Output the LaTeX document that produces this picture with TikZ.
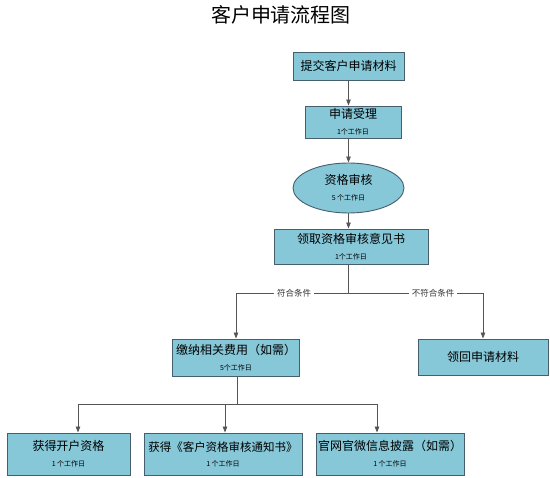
\documentclass[tikz,border=0pt]{standalone}
\usepackage{fontspec}
\setmainfont{Noto Sans CJK SC}
\usetikzlibrary{shapes.geometric,arrows.meta}
\definecolor{boxfill}{RGB}{134,199,216}
\definecolor{boxdraw}{RGB}{70,95,110}
\definecolor{linec}{RGB}{85,85,85}
\tikzset{
  box/.style={draw=boxdraw, line width=0.9pt, fill=boxfill, rectangle, align=center, inner sep=1pt, font=\fontsize{12}{15}\selectfont},
  oval/.style={box, ellipse},
  conn/.style={draw=linec, line width=0.8pt},
  arr/.style={conn, -{Triangle[length=6pt,width=4.5pt]}},
  lbl/.style={fill=white, inner sep=3pt, font=\fontsize{8.5}{10}\selectfont, text=black!80}
}
\newcommand{\subt}[1]{\\[1pt]{\fontsize{7}{8}\selectfont #1}}
\begin{document}
\begin{tikzpicture}[x=1pt,y=-1pt]
\useasboundingbox (0,0) rectangle (550,478);
\node[font=\fontsize{20}{24}\selectfont] (title) at (281,15) {客户申请流程图};
\node[box, minimum width=111pt, minimum height=28pt] (b1) at (348.5,66) {提交客户申请材料};
\node[box, minimum width=96pt, minimum height=32pt] (b2) at (353,122) {申请受理\subt{1个工作日}};
\node[oval, minimum width=111pt, minimum height=50pt] (b3) at (348.5,188) {资格审核\subt{5 个工作日}};
\node[box, minimum width=154pt, minimum height=35pt] (b4) at (351,246.5) {领取资格审核意见书\subt{1个工作日}};
\node[box, minimum width=127pt, minimum height=37pt] (b5) at (236,357.5) {缴纳相关费用（如需）\subt{5个工作日}};
\node[box, minimum width=130pt, minimum height=36pt] (b6) at (483,357) {领回申请材料};
\node[box, minimum width=123pt, minimum height=42pt] (b7) at (68.5,454) {获得开户资格\subt{1 个工作日}};
\node[box, minimum width=158pt, minimum height=42pt, font=\fontsize{11.5}{14}\selectfont] (b8) at (223,454) {获得《客户资格审核通知书》\subt{1 个工作日}};
\node[box, minimum width=148pt, minimum height=42pt] (b9) at (390,454) {官网官微信息披露（如需）\subt{1 个工作日}};
\coordinate (j) at (348.5,293);
\coordinate (k) at (237,404);
\draw[arr] (b1.south) -- (b1.south |- b2.north);
\draw[arr] (b1.south |- b2.south) -- (b3.north);
\draw[arr] (b3.south) -- (b3.south |- b4.north);
\draw[conn] (j |- b4.south) -- (j);
\draw[arr] (j) -| (b5.north);
\draw[arr] (j) -| (b6.north);
\node[lbl] (l1) at (294,293) {符合条件};
\node[lbl] (l2) at (433,293) {不符合条件};
\draw[conn] (k |- b5.south) -- (k);
\draw[arr] (k) -| ([xshift=9.5pt]b7.north);
\draw[arr] (k) -| ([xshift=2pt]b8.north);
\draw[arr] (k) -| ([xshift=-13pt]b9.north);
\end{tikzpicture}
\end{document}
